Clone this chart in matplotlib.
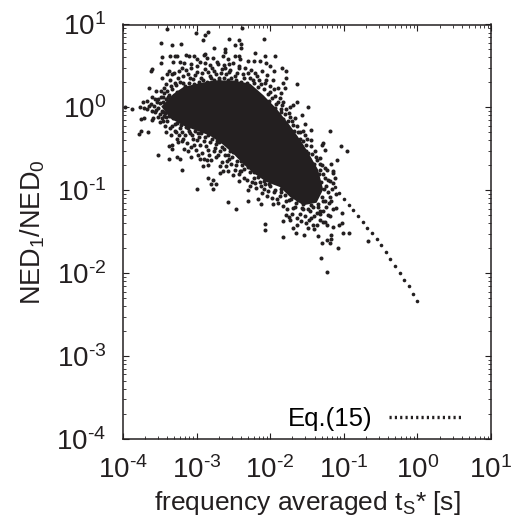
import matplotlib
matplotlib.use('Agg')
import matplotlib.pyplot as plt
from matplotlib.ticker import LogLocator, NullFormatter

plt.rcParams['font.family'] = ['Liberation Sans', 'DejaVu Sans']
plt.rcParams['mathtext.fontset'] = 'custom'
plt.rcParams['mathtext.rm'] = 'Liberation Sans'
plt.rcParams['mathtext.default'] = 'regular'

# log10(ts*), log10(NED1/NED0)
scatter_pts = [
    (-3.40, 0.94), (-3.01, 0.90), (-2.88, 0.87), (-2.84, 0.91), (-2.91, 0.81), (-2.38, 0.96), (-2.56, 0.83), (-2.42, 0.81),
    (-2.39, 0.77), (-2.48, 0.75), (-2.39, 0.72), (-2.08, 0.83), (-3.48, 0.78), (-3.33, 0.75), (-3.21, 0.76), (-2.76, 0.72),
    (-2.61, 0.70), (-2.62, 0.67), (-2.89, 0.65), (-2.90, 0.63), (-2.21, 0.66), (-3.47, 0.61), (-3.36, 0.62), (-3.30, 0.62),
    (-3.27, 0.62), (-3.14, 0.63), (-3.10, 0.62), (-3.04, 0.62), (-3.00, 0.58), (-2.86, 0.60), (-2.78, 0.59), (-2.64, 0.62),
    (-2.57, 0.58), (-2.48, 0.62), (-2.42, 0.62), (-2.07, 0.62), (-1.94, 0.62), (-3.48, 0.53), (-3.32, 0.55), (-3.23, 0.55),
    (-3.17, 0.53), (-2.95, 0.55), (-2.82, 0.51), (-2.71, 0.52), (-2.63, 0.51), (-2.56, 0.52), (-2.41, 0.58), (-2.30, 0.56),
    (-2.22, 0.56), (-2.14, 0.56), (-2.06, 0.54), (-2.00, 0.50), (-1.95, 0.44), (-1.84, 0.48), (-1.79, 0.44), (-3.61, 0.46),
    (-3.62, 0.44), (-3.38, 0.44), (-3.40, 0.40), (-3.34, 0.40), (-3.20, 0.48), (-3.07, 0.48), (-3.47, 0.36), (-1.78, 0.36),
    (-1.82, 0.30), (-1.64, 0.28), (-1.80, 0.24), (-3.64, 0.23), (-3.55, 0.20), (-3.60, 0.13), (-3.68, 0.08), (-3.73, 0.07),
    (-1.85, 0.17), (-1.87, 0.11), (-1.83, 0.07), (-1.64, 0.07), (-1.73, 0.00), (-1.69, 0.03), (-1.48, 0.00), (-3.97, 0.01),
    (-3.88, -0.02), (-3.77, 0.00), (-3.71, -0.01), (-3.67, -0.02), (-3.72, -0.13), (-3.75, -0.14), (-3.61, -0.15), (-3.59, -0.13),
    (-1.57, -0.09), (-1.73, -0.11), (-1.66, -0.13), (-1.69, -0.21), (-1.53, -0.20), (-1.55, -0.29), (-1.44, -0.27), (-1.19, -0.29),
    (-1.53, -0.33), (-1.44, -0.39), (-1.28, -0.43), (-1.30, -0.45), (-1.44, -0.46), (-1.26, -0.51), (-1.04, -0.46), (-0.95, -0.52),
    (-1.51, -0.45), (-3.78, -0.32), (-3.75, -0.28), (-3.66, -0.30), (-3.45, -0.17), (-3.43, -0.23), (-3.36, -0.25), (-3.23, -0.25),
    (-3.52, -0.58), (-3.38, -0.62), (-3.34, -0.45), (-3.38, -0.47), (-3.34, -0.50), (-3.25, -0.42), (-3.26, -0.60), (-3.22, -0.62),
    (-3.20, -0.75), (-2.95, -0.62), (-2.91, -0.71), (-2.84, -0.69), (-2.73, -0.60), (-2.80, -0.63), (-2.68, -0.71), (-2.59, -0.65),
    (-2.64, -0.77), (-2.48, -0.75), (-2.40, -0.77), (-3.16, -0.33), (-3.09, -0.31), (-3.00, -0.39), (-2.95, -0.45), (-2.84, -0.51),
    (-2.75, -0.49), (-2.68, -0.52), (-2.57, -0.57), (-2.50, -0.54), (-2.28, -0.51), (-2.16, -0.65), (-2.09, -0.73), (-1.32, -0.75),
    (-1.23, -0.76), (-1.14, -0.77), (-1.17, -0.68), (-1.09, -0.64), (-1.32, -0.61),
    (-3.00, -0.98), (-2.84, -0.85), (-2.78, -0.88), (-2.81, -0.93), (-2.74, -0.93), (-2.78, -0.98), (-2.57, -1.14), (-2.46, -1.23),
    (-2.30, -1.13), (-2.16, -1.11), (-2.13, -1.16), (-1.96, -1.16), (-2.07, -1.41), (-2.07, -1.48), (-1.82, -1.37), (-1.83, -1.56),
    (-1.74, -1.32), (-1.69, -1.46), (-1.65, -1.52), (-1.54, -1.54), (-1.48, -1.46), (-1.41, -1.47), (-1.35, -1.55), (-1.29, -1.63),
    (-1.23, -1.60), (-1.18, -1.59), (-1.19, -1.63), (-1.08, -1.69), (-1.31, -1.82), (-1.23, -1.99), (-1.01, -1.51), (-0.93, -1.52),
    (-0.67, -1.61), (-1.18, -1.54), (-1.14, -1.44), (-1.07, -1.42), (-1.03, -1.39), (-1.64, -1.42), (-1.51, -1.40), (-1.44, -1.34),
    (-1.32, -1.36), (-1.28, -1.38), (-1.23, -1.42), (-1.64, -1.34), (-1.78, -1.30), (-1.69, -1.21), (-1.57, -1.21), (-1.46, -1.25),
    (-1.37, -1.27), (-1.19, -1.31), (-1.10, -1.21), (-1.03, -1.27), (-1.14, -1.23), (-1.17, -1.13), (-1.19, -1.08), (-1.14, -0.91),
    (-1.19, -0.89), (-1.14, -0.79), (-1.12, -0.85), (-1.26, -0.85), (-2.32, -0.87), (-2.43, -0.89), (-2.30, -1.00), (-2.28, -0.95),
    (-2.09, -0.99), (-2.03, -1.01), (-1.91, -1.11), (-1.87, -1.07), (-1.78, -1.13), (-2.09, -0.89), (-2.21, -0.91), (-2.68, -0.79),
    (-2.57, -0.77), (-2.50, -0.81), (-2.41, -0.77),
    # thick fringe around the solid core
    (-3.30, 0.30), (-3.25, 0.36), (-3.18, 0.30), (-3.12, 0.40), (-3.05, 0.34), (-3.00, 0.43), (-2.94, 0.36), (-2.88, 0.46),
    (-2.82, 0.38), (-2.76, 0.44), (-2.70, 0.36), (-2.65, 0.46), (-2.60, 0.40), (-2.54, 0.45), (-2.48, 0.38), (-2.42, 0.47),
    (-2.36, 0.35), (-2.30, 0.42), (-2.24, 0.33), (-2.18, 0.38), (-2.12, 0.28), (-2.06, 0.33), (-2.00, 0.18), (-1.95, 0.22),
    (-2.02, 0.08), (-1.92, 0.04), (-1.86, -0.02), (-1.80, -0.08), (-1.76, -0.17), (-1.62, -0.30), (-1.60, -0.38), (-1.48, -0.55),
    (-1.38, -0.60), (-1.33, -0.68), (-1.28, -0.80), (-1.24, -0.95), (-1.30, -1.08), (-1.25, -1.13),
    (-3.42, -0.12), (-3.30, -0.20), (-3.20, -0.30), (-3.12, -0.25), (-3.05, -0.38), (-2.98, -0.31), (-2.90, -0.40), (-2.82, -0.42),
    (-2.72, -0.40), (-2.65, -0.48), (-2.56, -0.62), (-2.45, -0.65), (-2.38, -0.70), (-2.30, -0.72), (-2.22, -0.85), (-2.12, -0.95),
    (-2.02, -0.93), (-1.95, -1.02), (-1.85, -1.02), (-1.75, -1.12), (-1.65, -1.15), (-1.55, -1.22), (-1.45, -1.18), (-1.35, -1.20),
    (-3.50, 0.05), (-3.55, -0.03), (-3.52, 0.10), (-3.45, 0.12), (-3.40, 0.20), (-3.35, 0.26), (-3.50, -0.08), (-3.45, -0.05),
    # upper edge
    (-3.44, 0.17), (-3.41, 0.28), (-3.37, 0.15), (-3.36, 0.33), (-3.33, 0.22), (-3.31, 0.41), (-3.28, 0.27), (-3.26, 0.19),
    (-3.24, 0.44), (-3.22, 0.31), (-3.19, 0.38), (-3.16, 0.26), (-3.15, 0.45), (-3.11, 0.29), (-3.09, 0.36), (-3.07, 0.52),
    (-3.04, 0.28), (-3.02, 0.39), (-2.99, 0.50), (-2.97, 0.31), (-2.93, 0.42), (-2.91, 0.33), (-2.89, 0.54), (-2.86, 0.31),
    (-2.85, 0.43), (-2.81, 0.35), (-2.79, 0.48), (-2.77, 0.33), (-2.74, 0.40), (-2.72, 0.55), (-2.69, 0.33), (-2.67, 0.42),
    (-2.63, 0.35), (-2.61, 0.48), (-2.58, 0.33), (-2.56, 0.43), (-2.53, 0.36), (-2.51, 0.54), (-2.47, 0.33), (-2.45, 0.42),
    (-2.43, 0.50), (-2.40, 0.31), (-2.37, 0.40), (-2.34, 0.48), (-2.32, 0.30), (-2.28, 0.36), (-2.26, 0.45), (-2.22, 0.29),
    (-2.20, 0.41), (-2.16, 0.25), (-2.15, 0.33), (-2.11, 0.44), (-2.09, 0.22), (-2.07, 0.29), (-2.04, 0.39), (-2.03, 0.16),
    (-2.00, 0.26), (-1.98, 0.11), (-1.96, 0.33), (-1.94, 0.14), (-1.90, 0.23), (-1.93, -0.01), (-1.89, 0.07), (-1.85, -0.06),
    (-1.84, 0.03), (-1.79, -0.02), (-1.82, -0.14), (-1.78, -0.22), (-1.74, -0.07), (-1.71, -0.16), (-1.68, -0.28), (-1.66, -0.36),
    (-1.63, -0.22), (-1.60, -0.30),
    # right edge
    (-1.58, -0.46), (-1.55, -0.40), (-1.52, -0.52), (-1.50, -0.38), (-1.47, -0.62), (-1.43, -0.56), (-1.41, -0.68), (-1.39, -0.52),
    (-1.36, -0.63), (-1.34, -0.80), (-1.31, -0.90), (-1.30, -0.70), (-1.27, -0.98), (-1.26, -0.73), (-1.22, -0.88), (-1.21, -1.02),
    (-1.28, -1.13), (-1.24, -1.20), (-1.20, -1.15), (-1.16, -0.98), (-1.11, -1.05), (-1.32, -1.25),
    # lower edge
    (-3.44, -0.10), (-3.40, -0.17), (-3.38, -0.10), (-3.34, -0.22), (-3.32, -0.13), (-3.28, -0.30), (-3.27, -0.19), (-3.24, -0.33),
    (-3.21, -0.21), (-3.18, -0.38), (-3.15, -0.24), (-3.13, -0.43), (-3.10, -0.28), (-3.08, -0.48), (-3.06, -0.33), (-3.02, -0.28),
    (-3.01, -0.51), (-2.97, -0.36), (-2.94, -0.31), (-2.93, -0.55), (-2.89, -0.36), (-2.87, -0.47), (-2.85, -0.33), (-2.83, -0.58),
    (-2.79, -0.38), (-2.77, -0.53), (-2.74, -0.44), (-2.71, -0.58), (-2.69, -0.42), (-2.66, -0.66), (-2.63, -0.50), (-2.61, -0.58),
    (-2.60, -0.71), (-2.55, -0.53), (-2.53, -0.68), (-2.52, -0.60), (-2.47, -0.70), (-2.44, -0.58), (-2.42, -0.80), (-2.39, -0.65),
    (-2.36, -0.74), (-2.35, -0.85), (-2.31, -0.67), (-2.27, -0.78), (-2.25, -0.90), (-2.22, -0.78), (-2.19, -0.97), (-2.17, -0.84),
    (-2.14, -0.90), (-2.11, -1.03), (-2.07, -0.92), (-2.05, -1.07), (-2.00, -0.95), (-1.98, -1.09), (-1.93, -1.00), (-1.90, -1.15),
    (-1.86, -0.98), (-1.83, -1.19), (-1.80, -1.06), (-1.77, -1.22), (-1.72, -1.10), (-1.70, -1.28), (-1.66, -1.20), (-1.62, -1.12),
    (-1.60, -1.29), (-1.55, -1.17), (-1.53, -1.31), (-1.49, -1.22), (-1.47, -1.36), (-1.42, -1.20), (-1.40, -1.31), (-1.35, -1.16),
    (-1.33, -1.29), (-1.28, -1.25), (-1.22, -1.30), (-1.25, -1.38), (-1.36, -1.42), (-1.58, -1.37), (-1.73, -1.36), (-1.42, -1.42),
    # left wedge
    (-3.58, 0.02), (-3.54, 0.06), (-3.56, -0.06), (-3.52, -0.01), (-3.49, 0.12), (-3.47, -0.04), (-3.46, 0.06), (-3.43, -0.07),
    (-3.42, 0.10), (-3.39, 0.12), (-3.60, -0.04), (-3.62, 0.04), (-3.65, 0.02), (-3.57, 0.10), (-3.48, 0.20), (-3.44, 0.24),
    (-3.53, -0.12), (-3.50, -0.18), (-3.47, -0.13), (-3.41, -0.30), (-3.35, -0.33), (-3.30, -0.28), (-3.26, -0.38), (-3.20, -0.40),
    (-3.17, -0.50), (-3.12, -0.52), (-3.07, -0.60), (-3.04, -0.45), (-2.98, -0.58), (-2.90, -0.62), (-2.86, -0.64),
]

# outline of the area where the points merge into solid black
core_outline = [
    (-3.48, 0.01), (-3.32, 0.16), (-3.18, 0.245), (-3.00, 0.285), (-2.77, 0.325), (-2.50, 0.325), (-2.27, 0.285), (-2.09, 0.145),
    (-1.91, -0.02), (-1.73, -0.22), (-1.57, -0.42), (-1.46, -0.58), (-1.35, -0.75), (-1.28, -0.99), (-1.37, -1.15), (-1.55, -1.18),
    (-1.73, -1.08), (-1.87, -0.96), (-2.05, -0.90), (-2.23, -0.79), (-2.37, -0.68), (-2.50, -0.56), (-2.64, -0.45), (-2.82, -0.34),
    (-3.00, -0.28), (-3.18, -0.22), (-3.36, -0.13),
]

eq15_ts = [-1.12, -1.06, -0.997, -0.93, -0.87, -0.807, -0.744, -0.68, -0.62, -0.554, -0.495,
           -0.433, -0.37, -0.306, -0.243, -0.18, -0.116, -0.053, 0.0]
eq15_ned = [-0.965, -1.03, -1.106, -1.174, -1.243, -1.311, -1.379, -1.452, -1.52, -1.589, -1.665,
            -1.745, -1.83, -1.915, -2.0, -2.08, -2.16, -2.25, -2.33]

decades = [-4, -3, -2, -1, 0, 1]
tick_labels = ['10$^{\\text{-}4}$', '10$^{\\text{-}3}$', '10$^{\\text{-}2}$', '10$^{\\text{-}1}$', '10$^{0}$', '10$^{1}$']

fig = plt.figure(figsize=(5.25, 5.18), dpi=100)
ax = fig.add_axes([123/525, 1-439/518, 368/525, 414.5/518])
dark = '#231f20'

ax.fill([10**p[0] for p in core_outline], [10**p[1] for p in core_outline], color=dark, lw=0, zorder=2)
ax.plot([10**p[0] for p in scatter_pts], [10**p[1] for p in scatter_pts], 'o', color=dark, ms=2.9, mew=0, zorder=2)
ax.plot([10**v for v in eq15_ts], [10**v for v in eq15_ned], 'o', color=dark, ms=2.6, mew=0, zorder=2)

# legend entry is just a dotted row, label in front of it
ax.plot([], [], color=dark, lw=2.4, ls=(0, (0.65, 0.95)), label='Eq.(15)')
ax.legend(loc='lower right', frameon=False, markerfirst=False, fontsize=18.5, handlelength=2.8,
          handletextpad=0.65, borderaxespad=0.1, bbox_to_anchor=(0.953, -0.012))

ax.set_xscale('log')
ax.set_yscale('log')
ax.set_xlim(1e-4, 10)
ax.set_ylim(1e-4, 10)
ticks = [10.0**d for d in decades]
ax.set_xticks(ticks, tick_labels)
ax.set_yticks(ticks, tick_labels)
for axis in (ax.xaxis, ax.yaxis):
    axis.set_minor_locator(LogLocator(base=10, subs=range(2, 10), numticks=12))
    axis.set_minor_formatter(NullFormatter())
ax.tick_params(which='major', direction='in', top=True, right=True, length=4.5, width=0.8,
               labelsize=20, color=dark, labelcolor=dark)
ax.tick_params(axis='x', which='major', pad=12.5)
ax.tick_params(axis='y', which='major', pad=12)
ax.tick_params(which='minor', direction='in', top=True, right=True, length=2.2, width=0.6, color=dark)
for s in ax.spines.values():
    s.set_linewidth(1.1)
    s.set_color(dark)

ax.set_xlabel('frequency averaged t$_S$* [s]', fontsize=19, color=dark, labelpad=3.5)
ax.set_ylabel('NED$_1$/NED$_0$', fontsize=19.5, color=dark, labelpad=7)

fig.savefig('out.png', dpi=100)
